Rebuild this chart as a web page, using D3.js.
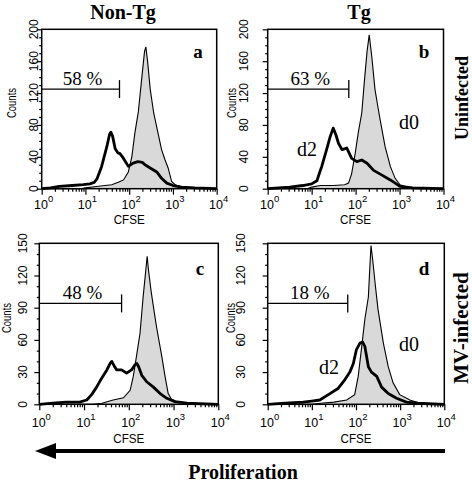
<!DOCTYPE html>
<html><head><meta charset="utf-8">
<script src="https://cdn.jsdelivr.net/npm/d3@7"></script>
<style>body{margin:0;background:#fff} svg{display:block}</style>
</head><body>
<svg id="chart" width="472" height="483"></svg>
<script>
// ---------- data ----------
const panelIds = ["a", "b", "c", "d"];
const columnTitles = ["Non-Tg", "Tg"];
const rowTitles = ["Uninfected", "MV-infected"];
const gatePercent = ["58 %", "63 %", "48 %", "18 %"];
const gateLevel = [125, 125, 94, 94];      // counts
const gateEnd = [60, 70, 69, 65];          // CFSE
const yMax = [200, 200, 150, 150];
const yTicksTop = [0, 40, 80, 120, 160, 200];
const yTicksBottom = [0, 30, 60, 90, 120, 150];
const xTickExponents = [0, 1, 2, 3, 4];
const xLabel = "CFSE";
const yLabel = "Counts";
const arrowLabel = "Proliferation";
const curveLabels = ["d2", "d0"];
// histograms: [log10 CFSE, counts]
const d0a = [[0,0],[0.9,0],[1.0,1],[1.3,3],[1.6,5],[1.75,8],[1.87,11],[1.98,21],[2.06,40],[2.13,70],[2.21,97],[2.28,135],[2.35,172],[2.38,178],[2.42,160],[2.48,125],[2.56,95],[2.65,72],[2.74,49],[2.82,36],[2.89,26],[2.97,9],[3.05,5],[3.2,2],[3.5,1],[4,0]];
const d2a = [[0,0],[0.2,1],[0.4,3],[0.7,4],[0.95,5],[1.1,6],[1.2,8],[1.26,12],[1.37,28],[1.49,53],[1.55,68],[1.58,71],[1.62,66],[1.68,50],[1.74,45],[1.79,44],[1.87,38],[1.98,28],[2.09,32],[2.2,34],[2.3,33],[2.36,30],[2.48,26],[2.63,21],[2.74,13],[2.86,7],[3.0,4],[3.2,2],[3.5,1],[4,0]];
const d0b = [[0,0],[0.9,0],[1.0,2],[1.2,4],[1.5,4],[1.75,5],[1.84,7],[1.91,19],[1.99,44],[2.06,70],[2.14,95],[2.2,135],[2.26,172],[2.31,193],[2.37,165],[2.44,125],[2.5,105],[2.56,86],[2.67,53],[2.79,28],[2.9,13],[3.01,5],[3.24,1],[4,0]];
const d2b = [[0,0],[0.5,2],[0.8,4],[1.0,6],[1.12,10],[1.18,20],[1.23,28],[1.34,49],[1.42,65],[1.49,76],[1.55,68],[1.61,57],[1.69,49],[1.8,51],[1.91,38],[2.03,34],[2.14,36],[2.26,32],[2.41,23],[2.6,17],[2.79,11],[3.01,3],[3.3,1],[4,0]];
const d0c = [[0,0],[1.2,0],[1.4,1],[1.65,4],[1.88,6],[2.03,13],[2.1,26],[2.18,47],[2.25,66],[2.32,100],[2.38,125],[2.41,138],[2.44,125],[2.5,105],[2.55,91],[2.62,72],[2.74,44],[2.81,26],[2.88,10],[2.95,5],[3.07,2.5],[3.3,1],[4,0]];
const d2c = [[0,0],[0.3,1],[0.6,2],[0.9,2],[1.06,4],[1.17,9],[1.28,16],[1.39,24],[1.51,32],[1.58,38],[1.62,40],[1.67,36],[1.73,32],[1.84,32],[1.95,29],[2.06,32],[2.14,37],[2.18,38],[2.22,35],[2.29,27],[2.4,21],[2.55,16],[2.7,10],[2.85,5.6],[3.03,2.5],[3.3,1],[4,0]];
const d0d = [[0,0],[1.0,0],[1.2,1],[1.5,2],[1.79,4],[1.97,9],[2.05,26],[2.13,54],[2.2,79],[2.28,100],[2.31,125],[2.34,148],[2.38,134],[2.44,110],[2.5,88],[2.62,57],[2.73,35],[2.84,20],[2.99,9],[3.22,4],[3.45,1],[4,0]];
const d2d = [[0,0],[0.4,1],[0.8,2],[1.0,3],[1.18,4],[1.41,10],[1.6,15],[1.75,23],[1.86,30],[1.94,38],[2.01,51],[2.09,57],[2.15,58],[2.2,54],[2.28,35],[2.35,30],[2.47,26],[2.58,16],[2.73,10],[2.92,5.6],[3.14,2],[3.4,1],[4,0]];
const d0Series = [d0a, d0b, d0c, d0d];
const d2Series = [d2a, d2b, d2c, d2d];
const showCurveLabels = [false, true, false, true];

// ---------- layout ----------
const layout = [
  {x0:41.7, x1:216.7, yTop:29.3, yBot:188.7, yLabX:33.5, cntX:12, cntY:103, letX:198, letY:58, xLabY:209, cfseY:224, d2:[0,0], d0:[0,0]},
  {x0:267.7, x1:443.5, yTop:29.3, yBot:188.7, yLabX:243.5, cntX:232, cntY:103, letX:424, letY:58, xLabY:209, cfseY:224, d2:[297,156], d0:[399,129]},
  {x0:39.3, x1:218.3, yTop:243.3, yBot:404.3, yLabX:23, cntX:7, cntY:318, letX:200, letY:275, xLabY:427, cfseY:443, d2:[0,0], d0:[0,0]},
  {x0:267.7, x1:444.3, yTop:243.3, yBot:404.3, yLabX:241, cntX:230.5, cntY:318, letX:424, letY:275, xLabY:427, cfseY:443, d2:[319,374], d0:[399,351]}
];
const serif = "'Liberation Serif','Times New Roman',serif";
const sans = "'Liberation Sans',Arial,sans-serif";

const svg = d3.select("#chart");

layout.forEach((L, i) => {
  const g = svg.append("g");
  const x = d3.scaleLog().domain([1, 10000]).range([L.x0, L.x1]);
  const y = d3.scaleLinear().domain([0, yMax[i]]).range([L.yBot, L.yTop]);
  const yTicks = i < 2 ? yTicksTop : yTicksBottom;

  // histograms
  const area = d3.area().x(d => x(Math.pow(10, d[0]))).y0(y(0)).y1(d => y(d[1]));
  const line = d3.line().x(d => x(Math.pow(10, d[0]))).y(d => y(d[1]));
  g.append("path").datum(d0Series[i]).attr("d", area).attr("fill", "#d9d9d9");
  g.append("path").datum(d0Series[i]).attr("d", line).attr("fill", "none").attr("stroke", "#000").attr("stroke-width", 1.1);
  g.append("path").datum(d2Series[i]).attr("d", line).attr("fill", "none").attr("stroke", "#000").attr("stroke-width", 2.8).attr("stroke-linejoin", "round");

  // frame
  g.append("rect").attr("x", L.x0).attr("y", L.yTop).attr("width", L.x1 - L.x0).attr("height", L.yBot - L.yTop)
    .attr("fill", "none").attr("stroke", "#000").attr("stroke-width", 1.5);

  // x axis
  const majors = xTickExponents.map(e => Math.pow(10, e));
  const minors = [];
  for (let e = 0; e < 4; e++) for (let k = 2; k <= 9; k++) minors.push(k * Math.pow(10, e));
  const xa = g.append("g").attr("transform", `translate(0,${L.yBot})`);
  xa.append("g").call(d3.axisBottom(x).tickValues(minors).tickSize(3).tickFormat(""));
  xa.append("g").call(d3.axisBottom(x).tickValues(majors).tickSize(6).tickFormat(""));
  xa.selectAll(".domain").remove();
  xa.selectAll("line").attr("stroke", "#000").attr("stroke-width", 1.2);
  xTickExponents.forEach(e => {
    const t = g.append("text").attr("x", x(Math.pow(10, e)) + 2).attr("y", L.xLabY)
      .attr("text-anchor", "middle").attr("font-family", sans).attr("font-size", 12.5);
    t.append("tspan").text("10");
    t.append("tspan").attr("dy", -7).attr("font-size", 9.5).text(e);
  });
  g.append("text").attr("x", (L.x0 + L.x1) / 2).attr("y", L.cfseY).attr("text-anchor", "middle")
    .attr("font-family", sans).attr("font-size", 13).attr("textLength", 31).attr("lengthAdjust", "spacingAndGlyphs").text(xLabel);

  // y axis
  const yMinor = d3.range(0, yMax[i] + 1, 10).filter(v => !yTicks.includes(v));
  const ya = g.append("g").attr("transform", `translate(${L.x0},0)`);
  ya.append("g").call(d3.axisLeft(y).tickValues(yMinor).tickSize(2.5).tickFormat(""));
  ya.append("g").call(d3.axisLeft(y).tickValues(yTicks).tickSize(5).tickFormat(""));
  ya.selectAll(".domain").remove();
  ya.selectAll("line").attr("stroke", "#000").attr("stroke-width", 1.2);
  yTicks.forEach(v => {
    g.append("text").attr("transform", `translate(${L.yLabX},${y(v)}) rotate(-90)`)
      .attr("text-anchor", "middle").attr("dy", "0.36em")
      .attr("font-family", sans).attr("font-size", 12)
      .text(v);
  });
  g.append("text").attr("transform", `translate(${L.cntX},${L.cntY}) rotate(-90)`)
    .attr("text-anchor", "middle").attr("dy", "0.36em")
    .attr("font-family", sans).attr("font-size", 12).attr("textLength", 30).attr("lengthAdjust", "spacingAndGlyphs")
    .text(yLabel);

  // gate
  const gx1 = x(gateEnd[i]), gy = y(gateLevel[i]);
  g.append("line").attr("x1", L.x0).attr("x2", gx1).attr("y1", gy).attr("y2", gy).attr("stroke", "#000").attr("stroke-width", 1.3);
  g.append("line").attr("x1", gx1).attr("x2", gx1).attr("y1", gy - 9).attr("y2", gy + 9).attr("stroke", "#000").attr("stroke-width", 1.3);
  g.append("text").attr("x", (L.x0 + gx1) / 2 + 2).attr("y", gy - 4).attr("text-anchor", "middle")
    .attr("font-family", serif).attr("font-size", 19).text(gatePercent[i]);

  // panel letter
  g.append("text").attr("x", L.letX).attr("y", L.letY).attr("text-anchor", "middle")
    .attr("font-family", serif).attr("font-weight", "bold").attr("font-size", 19).text(panelIds[i]);

  if (showCurveLabels[i]) {
    g.append("text").attr("x", L.d2[0]).attr("y", L.d2[1]).attr("font-family", serif).attr("font-size", 20).text(curveLabels[0]);
    g.append("text").attr("x", L.d0[0]).attr("y", L.d0[1]).attr("font-family", serif).attr("font-size", 20).text(curveLabels[1]);
  }
});

// column titles
[[123, columnTitles[0]], [359, columnTitles[1]]].forEach(([cx, t]) => {
  svg.append("text").attr("x", cx).attr("y", 18.5).attr("text-anchor", "middle")
    .attr("font-family", serif).attr("font-weight", "bold").attr("font-size", 20).text(t);
});
// row titles
[[462, 98, 18, rowTitles[0]], [461, 328, 21, rowTitles[1]]].forEach(([cx, cy, fs, t]) => {
  svg.append("text").attr("transform", `translate(${cx},${cy}) rotate(-90)`).attr("text-anchor", "middle")
    .attr("dy", "0.35em").attr("font-family", serif).attr("font-weight", "bold").attr("font-size", fs).text(t);
});

// proliferation arrow
svg.append("line").attr("x1", 52).attr("x2", 445).attr("y1", 451).attr("y2", 451).attr("stroke", "#000").attr("stroke-width", 4);
svg.append("path").attr("d", "M35,451 L56,443 L56,459 Z").attr("fill", "#000");
svg.append("text").attr("x", 243).attr("y", 479).attr("text-anchor", "middle")
  .attr("font-family", serif).attr("font-weight", "bold").attr("font-size", 20).text(arrowLabel);
</script>
</body></html>
